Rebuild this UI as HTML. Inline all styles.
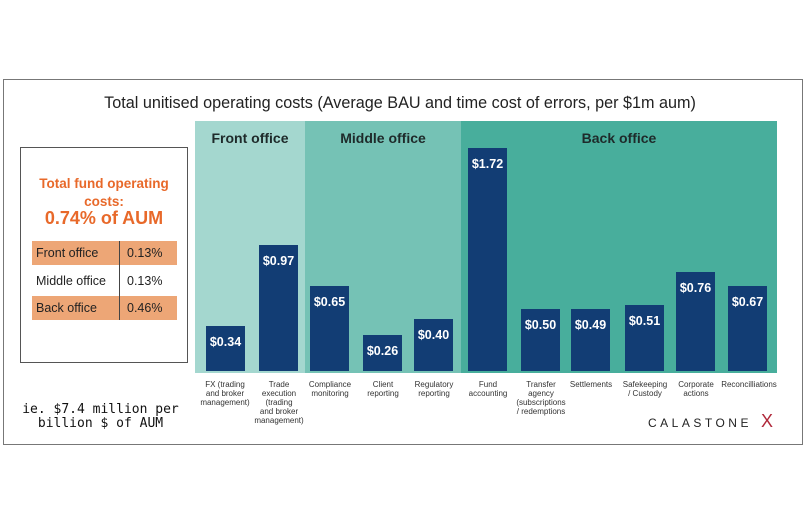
<!DOCTYPE html>
<html><head><meta charset="utf-8"><style>
body{margin:0;width:810px;height:524px;background:#fff;position:relative;overflow:hidden;font-family:"Liberation Sans",sans-serif}
.a{position:absolute}
.bar{position:absolute;background:#123d74;width:39px;color:#fff;font-weight:bold;font-size:12.5px;text-align:center}
.bar span{position:absolute;left:0;right:0;top:9px}
.lab{position:absolute;top:380px;font-size:8px;line-height:9px;text-align:center;color:#333;width:60px}
.hd{position:absolute;top:130px;font-weight:bold;font-size:14px;color:#1e2a2a;text-align:center}
.t{position:absolute;font-size:12.5px;color:#222}
</style></head><body>
<div class="a" style="left:3px;top:79px;width:798px;height:364px;border:1px solid #777"></div>
<div class="a" style="left:0;width:800px;top:94px;text-align:center;font-size:16.2px;color:#222">Total unitised operating costs (Average BAU and time cost of errors, per $1m aum)</div>
<div class="a" style="left:195px;top:121px;width:110px;height:252px;background:#a4d7cf"></div>
<div class="a" style="left:305px;top:121px;width:156px;height:252px;background:#75c2b5"></div>
<div class="a" style="left:461px;top:121px;width:316px;height:252px;background:#48ae9c"></div>
<div class="hd" style="left:195px;width:110px">Front office</div>
<div class="hd" style="left:305px;width:156px">Middle office</div>
<div class="hd" style="left:461px;width:316px">Back office</div>

<div class="bar" style="left:206px;top:326px;height:45px"><span>$0.34</span></div>
<div class="bar" style="left:259px;top:245px;height:126px"><span>$0.97</span></div>
<div class="bar" style="left:310px;top:286px;height:85px"><span>$0.65</span></div>
<div class="bar" style="left:363px;top:335px;height:36px"><span>$0.26</span></div>
<div class="bar" style="left:414px;top:319px;height:52px"><span>$0.40</span></div>
<div class="bar" style="left:468px;top:148px;height:223px"><span>$1.72</span></div>
<div class="bar" style="left:521px;top:309px;height:62px"><span>$0.50</span></div>
<div class="bar" style="left:571px;top:309px;height:62px"><span>$0.49</span></div>
<div class="bar" style="left:625px;top:305px;height:66px"><span>$0.51</span></div>
<div class="bar" style="left:676px;top:272px;height:99px"><span>$0.76</span></div>
<div class="bar" style="left:728px;top:286px;height:85px"><span>$0.67</span></div>

<div class="lab" style="left:195px">FX (trading<br>and broker<br>management)</div>
<div class="lab" style="left:249px">Trade<br>execution<br>(trading<br>and broker<br>management)</div>
<div class="lab" style="left:300px">Compliance<br>monitoring</div>
<div class="lab" style="left:353px">Client<br>reporting</div>
<div class="lab" style="left:404px">Regulatory<br>reporting</div>
<div class="lab" style="left:458px">Fund<br>accounting</div>
<div class="lab" style="left:511px">Transfer<br>agency<br>(subscriptions<br>/ redemptions</div>
<div class="lab" style="left:561px">Settlements</div>
<div class="lab" style="left:615px">Safekeeping<br>/ Custody</div>
<div class="lab" style="left:666px">Corporate<br>actions</div>
<div class="lab" style="left:714px;width:70px">Reconcilliations</div>

<div class="a" style="left:20px;top:147px;width:166px;height:214px;border:1px solid #555"></div>
<div class="a" style="left:20px;top:175px;width:168px;text-align:center;color:#e8692a;font-weight:bold;font-size:13.5px;line-height:18px">Total fund operating<br>costs:</div>
<div class="a" style="left:20px;top:208px;width:168px;text-align:center;color:#e8692a;font-weight:bold;font-size:18px">0.74% of AUM</div>
<div class="a" style="left:32px;top:241px;width:145px;height:24px;background:#eda676"></div>
<div class="a" style="left:32px;top:296px;width:145px;height:24px;background:#eda676"></div>
<div class="a" style="left:119px;top:241px;width:1px;height:79px;background:#444"></div>
<div class="t" style="left:36px;top:246px">Front office</div>
<div class="t" style="left:127px;top:246px">0.13%</div>
<div class="t" style="left:36px;top:274px">Middle office</div>
<div class="t" style="left:127px;top:274px">0.13%</div>
<div class="t" style="left:36px;top:301px">Back office</div>
<div class="t" style="left:127px;top:301px">0.46%</div>

<div class="a" style="left:18px;top:403px;width:165px;text-align:center;font-family:'DejaVu Sans Mono',monospace;font-size:13px;line-height:14px;color:#111">ie. $7.4 million per<br>billion $ of AUM</div>
<div class="a" style="left:648px;top:416px;font-size:12px;letter-spacing:3.5px;color:#222">CALASTONE</div>
<div class="a" style="left:761px;top:411px;font-size:18px;color:#b0283a">X</div>
</body></html>
